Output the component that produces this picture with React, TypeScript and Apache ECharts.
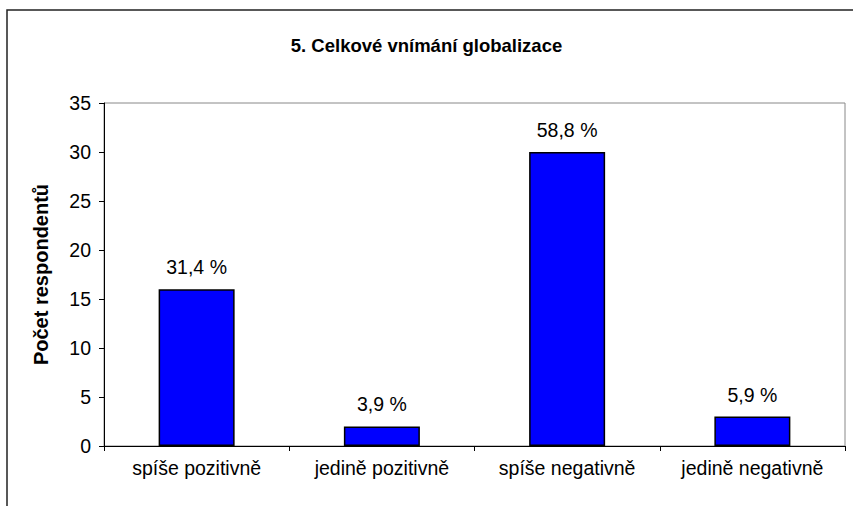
import React, { useEffect, useRef } from "react";
import * as echarts from "echarts";

const categories = ["spíše pozitivně", "jedině pozitivně", "spíše negativně", "jedině negativně"];
const counts = [16, 2, 30, 3];
const percentLabels = ["31,4 %", "3,9 %", "58,8 %", "5,9 %"];
const titleText = "5. Celkové vnímání globalizace";
const yAxisName = "Počet respondentů";

export default function App() {
  const ref = useRef<HTMLDivElement>(null);
  useEffect(() => {
    document.body.style.margin = "0";
    const chart = echarts.init(ref.current!, null, { renderer: "svg" });
    const font = "'Liberation Sans', Arial, sans-serif";
    chart.setOption({
      animation: false,
      backgroundColor: "#fff",
      title: {
        text: titleText,
        left: "center",
        top: 31,
        textStyle: { fontFamily: font, fontSize: 18.5, fontWeight: "bold", color: "#000" },
      },
      graphic: [
        {
          type: "rect",
          shape: { x: 7, y: 10, width: 900, height: 600 },
          style: { fill: "none", stroke: "#222", lineWidth: 1.5 },
          silent: true,
        },
      ],
      grid: {
        left: 104,
        right: 8,
        top: 103,
        bottom: 60,
        show: true,
        borderColor: "#888",
        borderWidth: 1,
        backgroundColor: "transparent",
      },
      xAxis: {
        type: "category",
        data: categories,
        axisLine: { lineStyle: { color: "#000", width: 1 } },
        axisTick: { show: true, alignWithLabel: false, length: 5, lineStyle: { color: "#000" } },
        axisLabel: { fontFamily: font, fontSize: 19.5, color: "#000", margin: 12 },
        splitLine: { show: false },
      },
      yAxis: {
        type: "value",
        min: 0,
        max: 35,
        interval: 5,
        name: yAxisName,
        nameLocation: "middle",
        nameRotate: 90,
        nameGap: 53,
        nameTextStyle: { fontFamily: font, fontSize: 20, fontWeight: "bold", color: "#000" },
        axisLine: { show: true, lineStyle: { color: "#000", width: 1 } },
        axisTick: { show: true, length: 5, lineStyle: { color: "#000" } },
        axisLabel: { fontFamily: font, fontSize: 19.5, color: "#000", margin: 13 },
        splitLine: { show: false },
      },
      series: [
        {
          type: "bar",
          data: counts,
          barWidth: 76,
          itemStyle: { color: "#0000FF", borderColor: "#000", borderWidth: 1.5 },
          label: {
            show: true,
            position: "top",
            distance: 12,
            fontFamily: font,
            fontSize: 19.5,
            color: "#000",
            formatter: (p: any) => percentLabels[p.dataIndex],
          },
        },
      ],
    });
    return () => chart.dispose();
  }, []);
  return <div ref={ref} style={{ width: 853, height: 506 }} />;
}
